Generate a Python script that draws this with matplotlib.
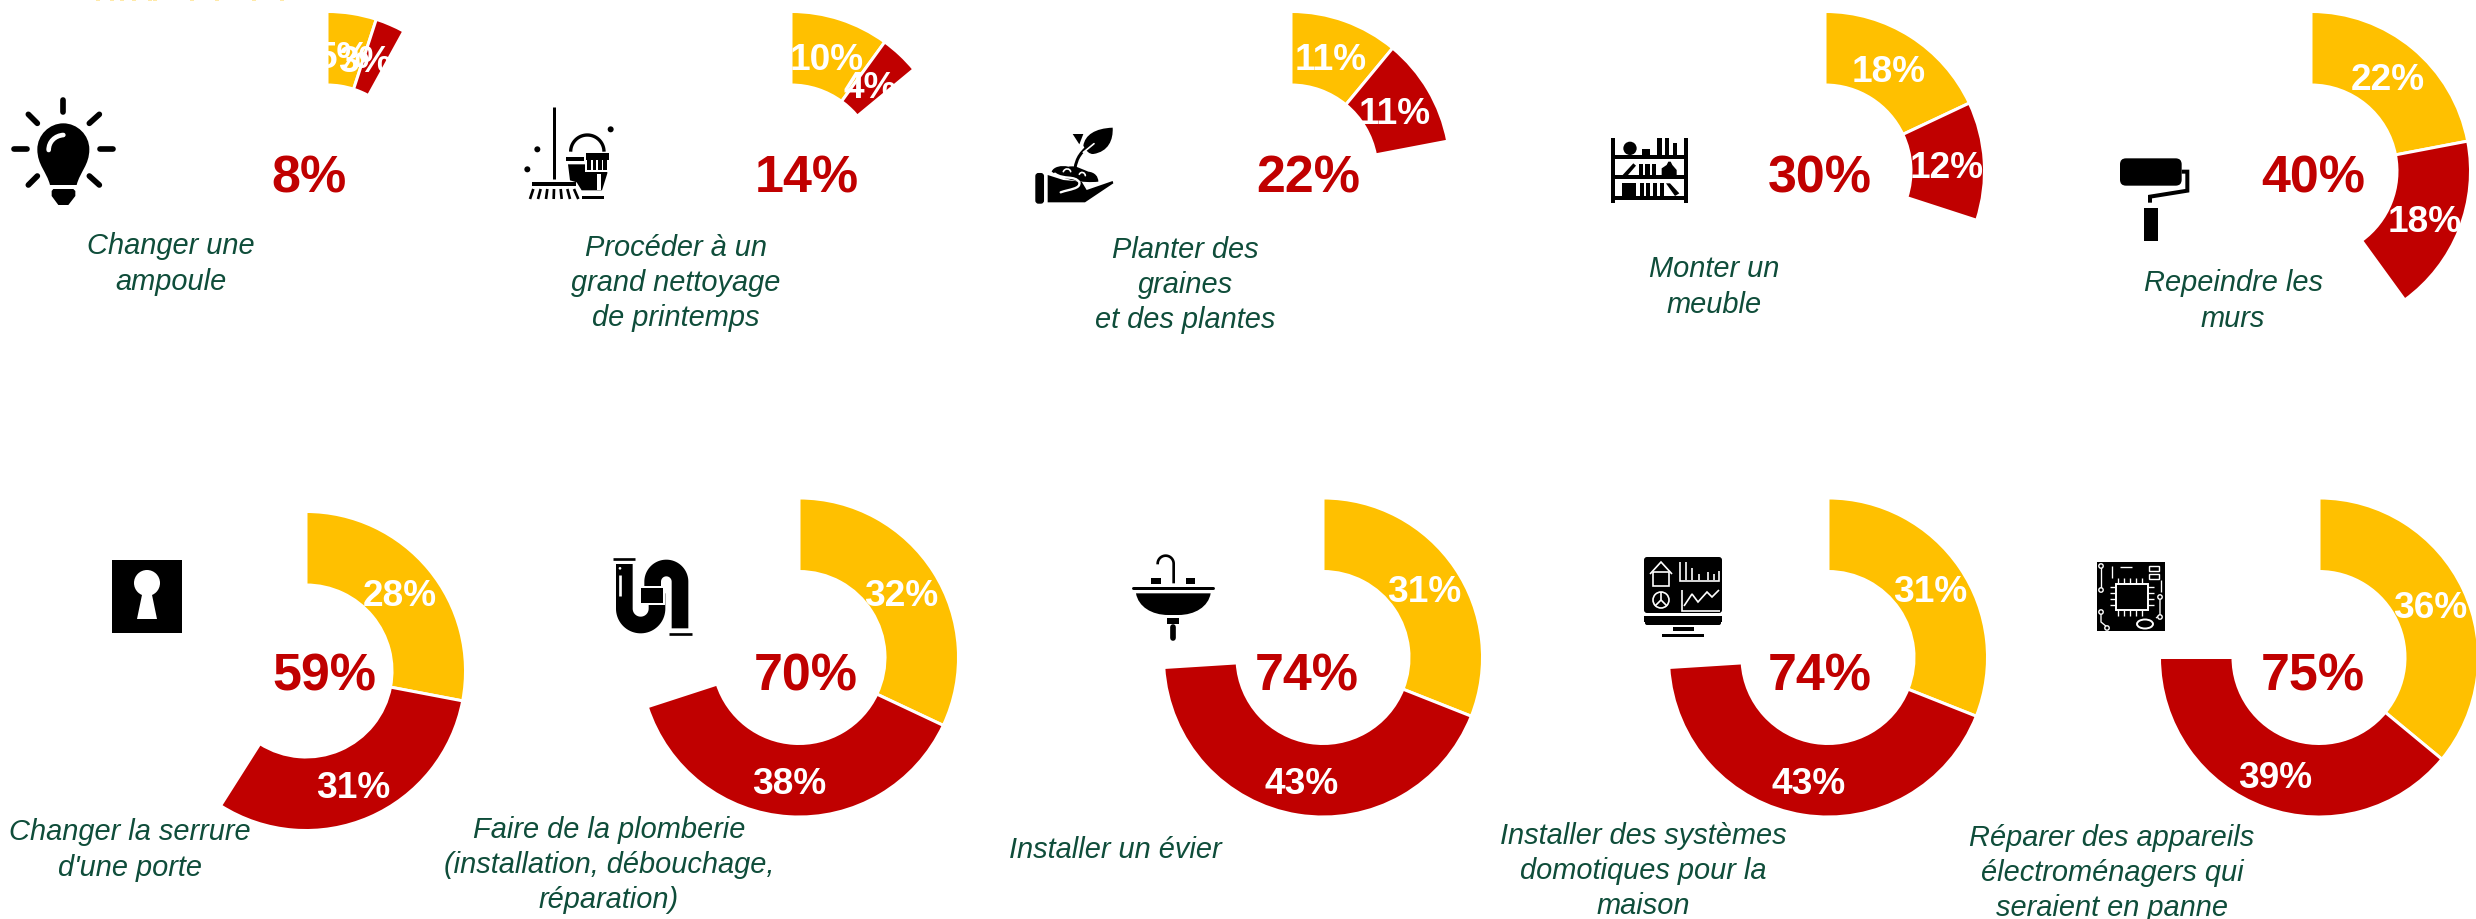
import numpy as np
import matplotlib
matplotlib.use("Agg")
import matplotlib.pyplot as plt
from matplotlib.patches import Wedge, Polygon, Circle, Rectangle, FancyBboxPatch, PathPatch, Ellipse
from matplotlib.path import Path

# ---------- data ----------
categories = [
    "Changer une\nampoule",
    "Procéder à un\ngrand nettoyage\nde printemps",
    "Planter des\ngraines\net des plantes",
    "Monter un\nmeuble",
    "Repeindre les\nmurs",
    "Changer la serrure\nd'une porte",
    "Faire de la plomberie\n(installation, débouchage,\nréparation)",
    "Installer un évier",
    "Installer des systèmes\ndomotiques pour la\nmaison",
    "Réparer des appareils\nélectroménagers qui\nseraient en panne",
]
yellow_values = [5, 10, 11, 18, 22, 28, 32, 31, 31, 36]
red_values = [3, 4, 11, 12, 18, 31, 38, 43, 43, 39]
total_values = [8, 14, 22, 30, 40, 59, 70, 74, 74, 75]

# ---------- layout (pixels of the 2476x919 canvas) ----------
W, H, DPI = 2476, 919, 100
PT = 72 / DPI
centers = [(327, 171), (791, 171), (1291, 171), (1825, 171), (2311, 171),
           (306, 671), (799, 657.5), (1323, 657.5), (1828, 657.5), (2319, 657.5)]
yellow_label_pos = [(344, 58), (827, 60), (1331, 60), (1889, 72), (2388, 81),
                    (400, 597), (901, 596), (1424, 593), (1930, 593), (2430, 609)]
red_label_pos = [(365, 63), (870, 88), (1395, 114), (1947, 169), (2425, 222),
                 (353, 788), (789, 785), (1302, 784), (1809, 784), (2275, 778)]
total_label_pos = [(309, 179), (807, 179), (1308, 179), (1820, 179), (2313, 179),
                   (324, 677), (806, 677), (1307, 677), (1820, 677), (2313, 677)]
category_pos = [(171, 264), (676, 283), (1185, 285), (1714, 287), (2233, 301),
                (130, 850), (609, 865), (1115, 850), (1643, 871), (2112, 873)]
R_OUT, R_IN = 159.5, 86
YELLOW, RED, GREEN, BLACK, WHITE = "#FFC000", "#C00000", "#0F4D3A", "#000000", "#FFFFFF"

plt.rcParams["font.family"] = ["Liberation Sans", "DejaVu Sans"]
fig = plt.figure(figsize=(W / DPI, H / DPI), dpi=DPI, facecolor="white")
ax = fig.add_axes([0, 0, 1, 1])
ax.set_xlim(0, W)
ax.set_ylim(H, 0)
ax.autoscale(False)
ax.axis("off")


# ---------- icon helpers: coordinates at 3x, from an icon origin ----------
def P(o, pts):
    return [(o[0] + x / 3, o[1] + y / 3) for x, y in pts]

def poly(o, pts, color=BLACK, z=5):
    ax.add_patch(Polygon(P(o, pts), closed=True, fc=color, ec="none", zorder=z))

def rect(o, x0, y0, x1, y1, color=BLACK, z=5):
    poly(o, [(x0, y0), (x1, y0), (x1, y1), (x0, y1)], color, z)

def line(o, pts, w, color=BLACK, cap="butt", z=5):
    q = np.array(P(o, pts))
    ax.plot(q[:, 0], q[:, 1], lw=w / 3 * PT, color=color, solid_capstyle=cap,
            solid_joinstyle="miter", zorder=z)

def dot(o, x, y, r, color=BLACK, z=5):
    ax.add_patch(Circle(P(o, [(x, y)])[0], r / 3, fc=color, ec="none", zorder=z))

def arc_pts(cx, cy, r, a0, a1, n=40):
    t = np.radians(np.linspace(a0, a1, n))
    return list(zip(cx + r * np.cos(t), cy + r * np.sin(t)))

def bez(o, pts, color=BLACK, z=5, w=None, cap="round"):
    """Cubic path: first point then triples. Filled, or stroked if w is given."""
    codes = [Path.MOVETO] + [Path.CURVE4] * (len(pts) - 1)
    path = Path(P(o, pts), codes)
    if w is None:
        ax.add_patch(PathPatch(path, fc=color, ec="none", zorder=z))
    else:
        ax.add_patch(PathPatch(path, fc="none", ec=color, lw=w / 3 * PT, capstyle=cap, zorder=z))


def icon_bulb():
    o = (0, 90)
    for seg in ([(188, 30), (188, 65)], [(85, 73), (112, 100)], [(298, 73), (268, 100)],
                [(42, 178), (80, 178)], [(300, 178), (340, 178)],
                [(85, 285), (112, 258)], [(298, 285), (268, 258)]):
        line(o, seg, 17, cap="round")
    bez(o, [(150, 285), (140, 245), (112, 225), (112, 178), (112, 135), (148, 100), (190, 100),
            (232, 100), (268, 135), (268, 178), (268, 225), (240, 245), (230, 285), (230, 285),
            (150, 285), (150, 285)])
    poly(o, [(160, 297), (220, 297), (226, 303), (226, 318), (205, 345), (175, 345), (155, 318), (155, 303)])
    bez(o, [(146, 180), (146, 155), (165, 137), (190, 135)], WHITE, 6, w=14)


def icon_mop():
    o = (510, 95)
    line(o, [(131, 35), (131, 252)], 9)
    rect(o, 66, 262, 198, 272)
    for a, b in zip([70, 92, 112, 132, 152, 172, 192], [60, 84, 108, 131, 155, 180, 205]):
        line(o, [(a, 282), (b, 312)], 8)
    dot(o, 302, 103, 9); dot(o, 82, 163, 9); dot(o, 52, 223, 9)
    line(o, arc_pts(232, 170, 50, 180, 360), 10)
    rect(o, 167, 187, 222, 198)
    poly(o, [(174, 208), (292, 208), (292, 235), (276, 286), (215, 286), (200, 262), (180, 256)])
    rect(o, 222, 170, 302, 200, WHITE, 6)
    rect(o, 228, 175, 298, 195, BLACK, 6)
    rect(o, 226, 195, 296, 230, WHITE, 6)
    for x in (232, 248, 264, 280):
        rect(o, x, 195, x + 11, 226, BLACK, 7)
    rect(o, 262, 238, 272, 285, WHITE, 7)
    rect(o, 215, 304, 282, 313)


def icon_plant():
    o = (1020, 115)
    bez(o, [(190, 92), (195, 60), (225, 40), (278, 38), (280, 75), (265, 110), (220, 117),
            (208, 118), (198, 108), (190, 92)])
    poly(o, [(158, 57), (190, 57), (178, 88)])
    bez(o, [(165, 160), (170, 130), (180, 110), (225, 78)], BLACK, 6, w=9)
    bez(o, [(190, 112), (200, 105), (210, 95), (222, 86)], WHITE, 7, w=5)
    bez(o, [(95, 170), (100, 155), (125, 150), (145, 155), (170, 150), (190, 165), (205, 170),
            (225, 172), (235, 185), (235, 200), (190, 205), (130, 195), (95, 170)])
    ax.add_patch(FancyBboxPatch((1020 + 48 / 3, 115 + 176 / 3), 22 / 3, 88 / 3,
                                boxstyle="round,pad=0,rounding_size=2.5", mutation_scale=1,
                                fc=BLACK, ec=BLACK, lw=1, zorder=5))
    poly(o, [(83, 180), (130, 195), (185, 200), (200, 225), (278, 198), (280, 205), (195, 262), (83, 262)])
    bez(o, [(105, 176), (130, 195), (165, 180), (178, 202), (182, 222), (150, 222), (122, 232)], WHITE, 6, w=7)
    bez(o, [(130, 170), (135, 158), (150, 160), (152, 170)], WHITE, 6, w=5)
    bez(o, [(178, 178), (183, 168), (195, 172), (196, 182)], WHITE, 6, w=5)


def icon_shelf():
    o = (1600, 125)
    rect(o, 33, 40, 45, 235); rect(o, 253, 40, 265, 235)
    rect(o, 33, 90, 265, 103); rect(o, 33, 150, 265, 162); rect(o, 33, 213, 265, 225)
    dot(o, 90, 70, 20)
    for x0, y0, x1 in ((125, 72, 150), (170, 40, 185), (195, 40, 207), (218, 55, 232)):
        rect(o, x0, y0, x1, 90)
    poly(o, [(68, 150), (100, 115), (108, 122), (84, 150)])
    for x0, x1 in ((118, 130), (135, 150), (155, 168)):
        rect(o, x0, 117, x1, 150)
    poly(o, [(185, 150), (185, 130), (200, 120), (205, 110), (212, 110), (217, 120), (230, 135), (230, 150)])
    rect(o, 65, 175, 108, 213)
    for x0, x1 in ((120, 132), (138, 150), (158, 172), (180, 192)):
        rect(o, x0, 175, x1, 213)
    poly(o, [(198, 175), (210, 175), (238, 205), (225, 213)])


def icon_roller():
    o = (2100, 150)
    ax.add_patch(FancyBboxPatch((2100 + 66 / 3, 150 + 31 / 3), 173 / 3, 70 / 3,
                                boxstyle="round,pad=2,rounding_size=6", mutation_scale=1,
                                fc=BLACK, ec="none", zorder=5))
    line(o, [(245, 65), (262, 65), (262, 122), (150, 140), (150, 158)], 12)
    rect(o, 132, 173, 175, 272)


def icon_key():
    ax.add_patch(Rectangle((112, 560), 70, 73, fc=BLACK, ec="none", zorder=5))
    ax.add_patch(Ellipse((147, 583), 26, 26, fc=WHITE, ec="none", zorder=6))
    ax.add_patch(Polygon([(143, 590), (151, 590), (157, 619), (137, 619)], fc=WHITE, ec="none", zorder=6))


def icon_pipe():
    o = (600, 550)
    line(o, [(40, 27), (105, 27)], 8)
    line(o, [(73, 42), (73, 176)] + arc_pts(122, 176, 49, 180, 0) + [(171, 130)], 50)
    line(o, [(158, 140), (158, 95)] + arc_pts(199, 95, 41, 180, 360) + [(240, 235)], 50)
    rect(o, 116, 107, 196, 166, WHITE, 6)
    rect(o, 122, 113, 190, 160, BLACK, 6)
    line(o, [(208, 252), (275, 252)], 8)
    dot(o, 60, 55, 4, WHITE, 6)
    line(o, [(60, 75), (60, 138)], 8, WHITE, z=6)


def icon_sink():
    o = (1120, 545)
    line(o, [(113, 58)] + arc_pts(137, 56, 24, 180, 360) + [(161, 115)], 8)
    rect(o, 93, 98, 122, 117); rect(o, 198, 98, 226, 117)
    line(o, [(40, 130), (280, 130)], 9, cap="round")
    bez(o, [(48, 145), (272, 145), (272, 145), (272, 145), (265, 185), (225, 210), (175, 210),
            (145, 210), (145, 210), (145, 210), (95, 210), (55, 185), (48, 145)])
    rect(o, 142, 220, 178, 238)
    line(o, [(160, 245), (160, 278)], 17, cap="round")


def icon_monitor():
    ax.add_patch(FancyBboxPatch((1646, 559), 74, 52, boxstyle="round,pad=2,rounding_size=3",
                                mutation_scale=1, fc=BLACK, ec="none", zorder=5))
    ax.add_patch(Rectangle((1644, 616), 78, 6, fc=BLACK, ec="none", zorder=5))
    ax.add_patch(FancyBboxPatch((1646, 620), 74, 4, boxstyle="round,pad=1,rounding_size=2",
                                mutation_scale=1, fc=BLACK, ec="none", zorder=5))
    ax.add_patch(Rectangle((1673, 627), 21, 4, fc=BLACK, ec="none", zorder=5))
    ax.add_patch(Rectangle((1662, 634), 42, 3, fc=BLACK, ec="none", zorder=5))
    o = (0, 0)
    w = 5
    def wl(pts):
        line(o, [(3 * x, 3 * y) for x, y in pts], w, WHITE, z=6)
    wl([(1650, 574), (1661, 562), (1672, 574)])
    wl([(1653, 572), (1653, 586), (1669, 586), (1669, 572), (1653, 572)])
    wl([(1680, 562), (1680, 581), (1719, 581), (1719, 571)])
    for x, y in ((1686, 562), (1692, 568), (1699, 574), (1708, 572), (1714, 574)):
        wl([(x, y), (x, 580)])
    ax.add_patch(Circle((1661, 600), 8, fc="none", ec=WHITE, lw=1.2, zorder=6))
    wl([(1661, 592), (1661, 600), (1655, 606)]); wl([(1661, 600), (1667, 606)])
    wl([(1682, 590), (1682, 611), (1720, 611)])
    wl([(1684, 606), (1692, 594), (1698, 602), (1707, 592), (1712, 597), (1719, 590)])


def icon_chip():
    ax.add_patch(Rectangle((2097, 562), 68, 69, fc=BLACK, ec="none", zorder=5))
    ax.add_patch(Rectangle((2116, 584), 32, 26, fc=BLACK, ec=WHITE, lw=1.4, zorder=6))
    o = (0, 0)
    def wl(pts, w=4):
        line(o, [(3 * x, 3 * y) for x, y in pts], w, WHITE, z=6)
    for x in np.arange(2118, 2148, 6):
        wl([(x, 578), (x, 584)]); wl([(x, 610), (x, 616)])
    for y in np.arange(587, 610, 6):
        wl([(2110, y), (2116, y)]); wl([(2148, y), (2154, y)])
    wl([(2101, 567), (2101, 590)]); wl([(2101, 612), (2101, 622), (2107, 627)])
    wl([(2112, 566), (2112, 578)]); wl([(2120, 567), (2132, 567)])
    wl([(2160, 598), (2160, 615), (2156, 618)]); wl([(2161, 580), (2161, 592)])
    for x, y in ((2101, 566), (2101, 590), (2101, 612), (2107, 628), (2160, 597), (2160, 617)):
        ax.add_patch(Circle((x, y), 2.2, fc=BLACK, ec=WHITE, lw=1, zorder=7))
    for y in (566, 574):
        ax.add_patch(Rectangle((2149, y), 10, 5, fc=BLACK, ec=WHITE, lw=1, zorder=6))
    ax.add_patch(Ellipse((2145, 624), 16, 9, fc=BLACK, ec=WHITE, lw=1.4, zorder=6))


# ---------- donuts ----------
for (cx, cy), yv, rv, tot, yp, rp, tp in zip(centers, yellow_values, red_values, total_values,
                                             yellow_label_pos, red_label_pos, total_label_pos):
    start = -90
    mid = start + yv * 3.6
    end = mid + rv * 3.6
    ax.add_patch(Wedge((cx, cy), R_OUT, start, mid, width=R_OUT - R_IN, fc=YELLOW, ec=WHITE, lw=3 * PT, zorder=2))
    ax.add_patch(Wedge((cx, cy), R_OUT, mid, end, width=R_OUT - R_IN, fc=RED, ec=WHITE, lw=3 * PT, zorder=2))
    ax.text(*yp, f"{yv}%", color=WHITE, fontsize=37 * PT, fontweight="bold", ha="center", va="center", zorder=3)
    ax.text(*rp, f"{rv}%", color=WHITE, fontsize=37 * PT, fontweight="bold", ha="center", va="center", zorder=3)
    ax.text(*tp, f"{tot}%", color=RED, fontsize=52 * PT, fontweight="bold", ha="center", va="center", zorder=3)

# ---------- captions ----------
for label, (x, y) in zip(categories, category_pos):
    ax.text(x, y, label, color=GREEN, fontsize=29 * PT, fontstyle="italic", ha="center", va="center",
            multialignment="center", linespacing=1.33, zorder=4)

# ---------- icons ----------
for draw in (icon_bulb, icon_mop, icon_plant, icon_shelf, icon_roller,
             icon_key, icon_pipe, icon_sink, icon_monitor, icon_chip):
    draw()

# ---------- remains of a cropped line of text at the very top edge ----------
for x in (98, 112, 122, 134, 150, 155, 192, 217, 254, 282):
    ax.add_patch(Rectangle((x - 2, 0), 4, 1.2, fc="#FFE9A8", ec="none", zorder=1))

fig.savefig("out.png", dpi=DPI, facecolor="white")
